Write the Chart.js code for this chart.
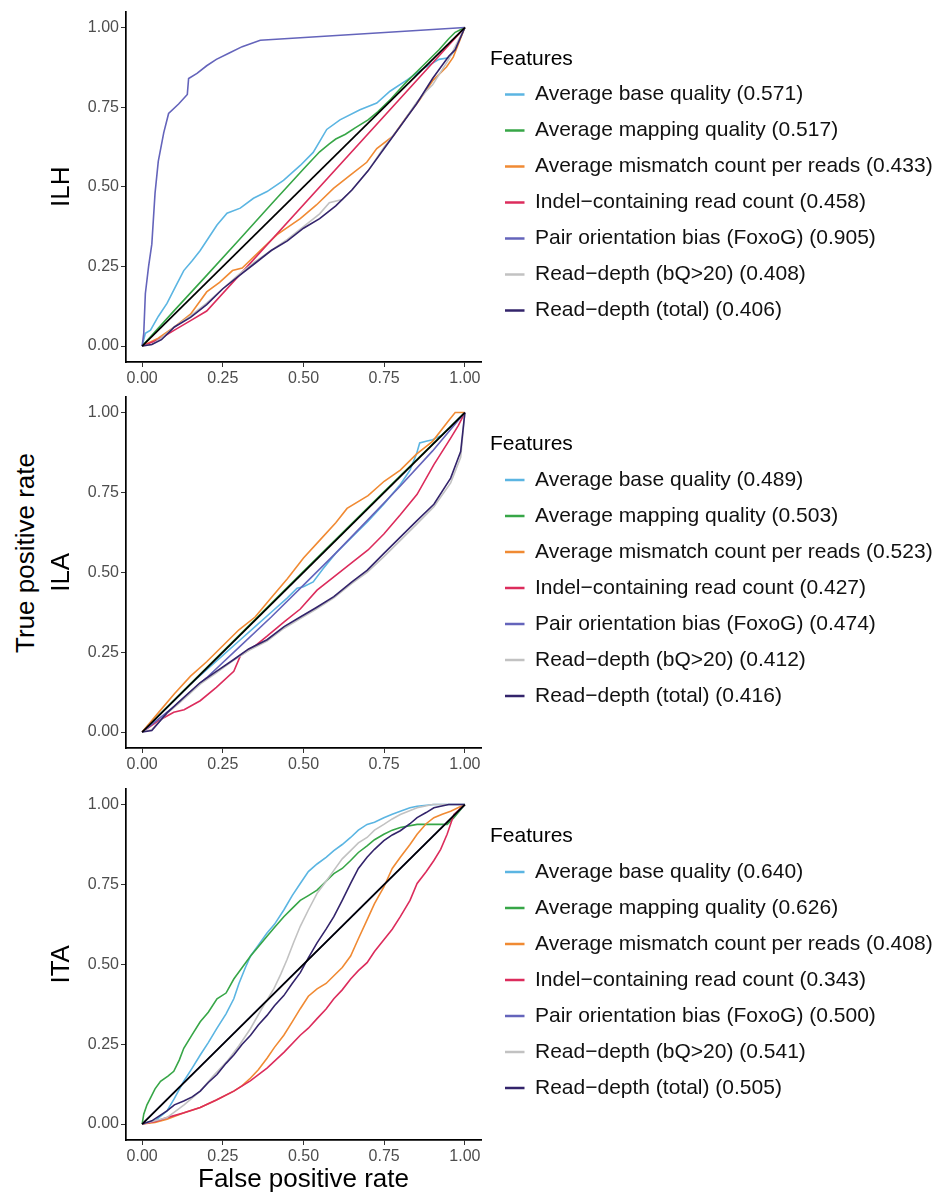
<!DOCTYPE html>
<html>
<head>
<meta charset="utf-8">
<script src="https://cdn.jsdelivr.net/npm/chart.js@4.4.1/dist/chart.umd.min.js"></script>
<style>
  html, body { margin: 0; padding: 0; background: #fff; width: 941px; height: 1193px; overflow: hidden; position: relative; font-family: "Liberation Sans", Arial, sans-serif; }
  canvas { position: absolute; left: 0; }
  #tpr { position: absolute; left: 25px; top: 553px; transform: translate(-50%, -50%) rotate(-90deg); font-size: 26px; white-space: nowrap; color: #000; }
</style>
</head>
<body>
<div id="tpr">True positive rate</div>
<canvas id="ilh" width="941" height="390" style="top:0px"></canvas>
<canvas id="ila" width="941" height="391" style="top:385px"></canvas>
<canvas id="ita" width="941" height="416" style="top:777px"></canvas>
<script>
const tickValues = [0, 0.25, 0.5, 0.75, 1];
const featureNames = [
  'Average base quality',
  'Average mapping quality',
  'Average mismatch count per reads',
  'Indel\u2212containing read count',
  'Pair orientation bias (FoxoG)',
  'Read\u2212depth (bQ>20)',
  'Read\u2212depth (total)'
];
const featureColors = ['#5bb5e2', '#37a647', '#f08a33', '#dc2c5c', '#6464bb', '#c2c2c2', '#33246b'];
const diagonal = [[0, 0], [1, 1]];

// ILH
const aucILH = ['0.571', '0.517', '0.433', '0.458', '0.905', '0.408', '0.406'];
const ilhBaseQ = [[0,0],[0.01,0.04],[0.026,0.05],[0.05,0.093],[0.077,0.134],[0.103,0.186],[0.129,0.237],[0.155,0.268],[0.18,0.30],[0.206,0.34],[0.232,0.38],[0.263,0.417],[0.304,0.433],[0.345,0.464],[0.387,0.485],[0.438,0.52],[0.49,0.567],[0.53,0.608],[0.572,0.68],[0.613,0.71],[0.675,0.742],[0.727,0.763],[0.768,0.80],[0.82,0.835],[0.871,0.871],[0.92,0.9],[0.95,0.905],[0.97,0.93],[1,1]];
const ilhMapQ = [[0,0],[0.1,0.112],[0.2,0.222],[0.3,0.333],[0.4,0.445],[0.5,0.556],[0.55,0.61],[0.58,0.635],[0.6,0.65],[0.63,0.665],[0.66,0.685],[0.7,0.71],[0.73,0.735],[0.77,0.775],[0.82,0.83],[0.87,0.88],[0.92,0.93],[0.95,0.965],[0.97,0.985],[1,1]];
const ilhMismatch = [[0,0],[0.05,0.025],[0.1,0.06],[0.15,0.1],[0.2,0.17],[0.24,0.2],[0.28,0.237],[0.31,0.245],[0.366,0.30],[0.418,0.35],[0.49,0.40],[0.54,0.443],[0.593,0.495],[0.644,0.536],[0.696,0.577],[0.727,0.62],[0.778,0.66],[0.82,0.72],[0.86,0.773],[0.902,0.835],[0.943,0.876],[0.964,0.907],[1,1]];
const ilhIndel = [[0,0],[0.05,0.02],[0.1,0.05],[0.15,0.08],[0.2,0.11],[1,1]];
const ilhPair = [[0,0],[0.005,0.04],[0.01,0.165],[0.02,0.25],[0.03,0.32],[0.04,0.48],[0.05,0.58],[0.067,0.67],[0.082,0.73],[0.113,0.76],[0.14,0.79],[0.144,0.84],[0.17,0.856],[0.2,0.88],[0.23,0.90],[0.27,0.92],[0.31,0.94],[0.366,0.96],[1,1]];
const ilhDepthBQ = [[0,0],[0.03,0.005],[0.06,0.025],[0.1,0.06],[0.15,0.095],[0.2,0.135],[0.25,0.18],[0.3,0.225],[0.35,0.265],[0.4,0.3],[0.45,0.335],[0.5,0.375],[0.55,0.415],[0.58,0.45],[0.62,0.46],[0.65,0.49],[0.7,0.55],[0.75,0.625],[0.8,0.69],[0.85,0.765],[0.88,0.8],[0.9,0.82],[0.95,0.9],[0.97,0.94],[1,1]];
const ilhDepthTotal = [[0,0],[0.03,0.005],[0.06,0.02],[0.1,0.06],[0.15,0.09],[0.2,0.13],[0.25,0.18],[0.3,0.22],[0.35,0.26],[0.4,0.3],[0.45,0.33],[0.5,0.37],[0.55,0.4],[0.6,0.44],[0.65,0.49],[0.7,0.55],[0.75,0.62],[0.8,0.69],[0.85,0.76],[0.9,0.84],[0.95,0.91],[0.97,0.93],[1,1]];

// ILA
const aucILA = ['0.489', '0.503', '0.523', '0.427', '0.474', '0.412', '0.416'];
const ilaBaseQ = [[0,0],[0.05,0.05],[0.1,0.1],[0.15,0.15],[0.2,0.195],[0.25,0.24],[0.3,0.285],[0.35,0.33],[0.4,0.375],[0.45,0.42],[0.48,0.45],[0.5,0.455],[0.53,0.47],[0.56,0.51],[0.6,0.56],[0.65,0.61],[0.7,0.66],[0.75,0.715],[0.8,0.775],[0.83,0.82],[0.85,0.87],[0.86,0.905],[0.88,0.91],[0.9,0.915],[0.93,0.93],[0.96,0.96],[1,1]];
const ilaMapQ = [[0,0],[0.25,0.252],[0.5,0.503],[0.75,0.753],[1,1]];
const ilaMismatch = [[0,0],[0.05,0.06],[0.1,0.12],[0.15,0.175],[0.2,0.22],[0.25,0.27],[0.3,0.32],[0.35,0.36],[0.4,0.42],[0.45,0.48],[0.5,0.545],[0.55,0.6],[0.6,0.655],[0.635,0.7],[0.7,0.74],[0.75,0.785],[0.8,0.82],[0.85,0.87],[0.9,0.91],[0.95,0.975],[0.97,1.0],[1,1]];
const ilaIndel = [[0,0],[0.05,0.035],[0.077,0.05],[0.098,0.062],[0.13,0.07],[0.18,0.098],[0.23,0.14],[0.284,0.19],[0.305,0.24],[0.35,0.27],[0.387,0.30],[0.44,0.345],[0.49,0.385],[0.542,0.444],[0.6,0.49],[0.646,0.527],[0.7,0.57],[0.749,0.62],[0.8,0.68],[0.852,0.744],[0.904,0.837],[0.956,0.92],[0.98,0.96],[1,1]];
const ilaPair = [[0,0],[0.05,0.04],[0.1,0.08],[0.2,0.17],[0.3,0.265],[0.4,0.36],[0.5,0.46],[0.6,0.56],[0.7,0.665],[0.8,0.77],[0.9,0.88],[1,1]];
const ilaDepthBQ = [[0,0],[0.03,0.008],[0.077,0.058],[0.12,0.095],[0.18,0.15],[0.23,0.185],[0.284,0.225],[0.33,0.255],[0.387,0.285],[0.44,0.325],[0.49,0.355],[0.54,0.385],[0.594,0.42],[0.65,0.465],[0.697,0.5],[0.75,0.55],[0.8,0.6],[0.85,0.65],[0.904,0.705],[0.956,0.78],[0.987,0.86],[1,1]];
const ilaDepthTotal = [[0,0],[0.03,0.005],[0.077,0.06],[0.12,0.1],[0.18,0.155],[0.23,0.19],[0.284,0.227],[0.33,0.26],[0.387,0.289],[0.44,0.33],[0.49,0.36],[0.54,0.39],[0.594,0.424],[0.65,0.47],[0.697,0.506],[0.75,0.56],[0.8,0.61],[0.85,0.66],[0.904,0.713],[0.956,0.795],[0.987,0.878],[1,1]];

// ITA
const aucITA = ['0.640', '0.626', '0.408', '0.343', '0.500', '0.541', '0.505'];
const itaBaseQ = [[0,0],[0.04,0.01],[0.077,0.041],[0.1,0.08],[0.129,0.134],[0.155,0.175],[0.18,0.216],[0.205,0.255],[0.232,0.3],[0.26,0.345],[0.284,0.392],[0.3,0.44],[0.32,0.49],[0.336,0.526],[0.36,0.56],[0.387,0.598],[0.41,0.625],[0.439,0.67],[0.465,0.715],[0.49,0.753],[0.515,0.79],[0.542,0.814],[0.57,0.835],[0.594,0.856],[0.62,0.875],[0.646,0.897],[0.67,0.92],[0.697,0.938],[0.72,0.945],[0.749,0.959],[0.775,0.97],[0.8,0.979],[0.83,0.99],[0.852,0.995],[0.904,1],[1,1]];
const itaMapQ = [[0,0],[0.005,0.031],[0.015,0.06],[0.026,0.082],[0.04,0.11],[0.057,0.134],[0.08,0.15],[0.098,0.165],[0.115,0.2],[0.129,0.237],[0.155,0.28],[0.18,0.32],[0.205,0.35],[0.232,0.392],[0.26,0.41],[0.284,0.454],[0.31,0.49],[0.336,0.526],[0.36,0.555],[0.387,0.588],[0.41,0.615],[0.439,0.649],[0.465,0.675],[0.49,0.70],[0.515,0.715],[0.542,0.732],[0.57,0.76],[0.594,0.784],[0.62,0.8],[0.646,0.825],[0.67,0.85],[0.697,0.871],[0.72,0.89],[0.749,0.907],[0.775,0.92],[0.8,0.928],[0.852,0.938],[0.904,0.938],[0.945,0.938],[0.966,0.959],[1,1]];
const itaMismatch = [[0,0],[0.04,0.005],[0.077,0.015],[0.13,0.035],[0.18,0.052],[0.23,0.075],[0.284,0.103],[0.31,0.12],[0.336,0.144],[0.36,0.17],[0.387,0.206],[0.41,0.24],[0.439,0.278],[0.465,0.32],[0.49,0.361],[0.515,0.4],[0.542,0.423],[0.57,0.44],[0.594,0.464],[0.62,0.49],[0.646,0.526],[0.67,0.58],[0.697,0.639],[0.72,0.69],[0.749,0.742],[0.775,0.8],[0.8,0.835],[0.83,0.875],[0.852,0.907],[0.88,0.94],[0.904,0.959],[0.93,0.97],[0.956,0.979],[1,1]];
const itaIndel = [[0,0],[0.04,0.008],[0.077,0.02],[0.13,0.035],[0.18,0.052],[0.23,0.075],[0.284,0.103],[0.335,0.135],[0.387,0.175],[0.44,0.225],[0.49,0.278],[0.515,0.3],[0.542,0.33],[0.57,0.36],[0.594,0.392],[0.62,0.42],[0.646,0.454],[0.67,0.48],[0.697,0.505],[0.72,0.54],[0.749,0.577],[0.775,0.61],[0.8,0.649],[0.83,0.7],[0.852,0.753],[0.88,0.79],[0.904,0.825],[0.925,0.86],[0.945,0.907],[0.966,0.969],[1,1]];
const itaPair = [[0,0],[1,1]];
const itaDepthBQ = [[0,0],[0.04,0.01],[0.077,0.02],[0.13,0.06],[0.18,0.103],[0.22,0.15],[0.263,0.196],[0.3,0.245],[0.336,0.299],[0.37,0.36],[0.408,0.423],[0.43,0.47],[0.449,0.515],[0.47,0.57],[0.49,0.619],[0.515,0.67],[0.542,0.722],[0.57,0.76],[0.594,0.794],[0.62,0.83],[0.646,0.856],[0.67,0.88],[0.697,0.897],[0.72,0.92],[0.749,0.938],[0.775,0.955],[0.8,0.969],[0.852,0.99],[0.9,1],[1,1]];
const itaDepthTotal = [[0,0],[0.03,0.01],[0.077,0.041],[0.1,0.06],[0.129,0.072],[0.155,0.085],[0.18,0.103],[0.205,0.13],[0.232,0.155],[0.26,0.19],[0.284,0.216],[0.31,0.25],[0.336,0.278],[0.36,0.31],[0.387,0.34],[0.41,0.37],[0.439,0.402],[0.465,0.44],[0.49,0.474],[0.515,0.52],[0.542,0.567],[0.57,0.61],[0.594,0.649],[0.62,0.7],[0.646,0.753],[0.67,0.8],[0.697,0.835],[0.72,0.86],[0.749,0.887],[0.775,0.905],[0.8,0.918],[0.83,0.94],[0.852,0.959],[0.88,0.975],[0.904,0.99],[0.95,1],[1,1]];

const FONT = '"Liberation Sans", Arial, sans-serif';
Chart.defaults.font.family = FONT;

function toXY(pts) {
  return pts.map(p => ({ x: p[0], y: p[1] }));
}

function makePanel(id, panelName, series, aucs, isBottom) {
  const datasets = series.map((pts, i) => ({
    label: `${featureNames[i]} (${aucs[i]})`,
    data: toXY(pts),
    borderColor: featureColors[i],
    backgroundColor: featureColors[i],
    borderWidth: 1.6,
    pointRadius: 0,
    tension: 0,
    order: series.length - i
  }));
  datasets.push({
    label: 'diagonal',
    data: toXY(diagonal),
    borderColor: '#000',
    backgroundColor: '#000',
    borderWidth: 1.7,
    pointRadius: 0,
    order: 0
  });

  return new Chart(document.getElementById(id), {
    type: 'line',
    data: { datasets },
    options: {
      responsive: false,
      animation: false,
      devicePixelRatio: 1,
      events: [],
      layout: { padding: { top: 7, left: 0, right: 0, bottom: 0 } },
      scales: {
        x: {
          type: 'linear',
          min: -0.05,
          max: 1.05,
          afterBuildTicks: s => { s.ticks = tickValues.map(v => ({ value: v })); },
          afterFit: s => { s.height = isBottom ? 53 : 28; },
          grid: { drawOnChartArea: false, drawTicks: true, tickLength: 5, color: '#333' },
          border: { display: true, color: '#000', width: 1.7 },
          ticks: { padding: 2, color: '#4d4d4d', font: { size: 16 }, maxRotation: 0, autoSkip: false, callback: v => v.toFixed(2) },
          title: { display: isBottom, text: 'False positive rate', color: '#000', font: { size: 26, lineHeight: 1 }, padding: { top: 0, bottom: 0 } }
        },
        y: {
          type: 'linear',
          min: -0.05,
          max: 1.05,
          afterBuildTicks: s => { s.ticks = tickValues.map(v => ({ value: v })); },
          afterFit: s => { s.width = 126; },
          grid: { drawOnChartArea: false, drawTicks: true, tickLength: 5, color: '#333' },
          border: { display: true, color: '#000', width: 1.7 },
          ticks: { padding: 2, color: '#4d4d4d', font: { size: 16 }, callback: v => v.toFixed(2) },
          title: { display: true, text: panelName, color: '#000', font: { size: 26 }, padding: { top: 46, bottom: 0 } }
        },
        gap: {
          type: 'linear',
          position: 'right',
          display: true,
          afterFit: s => { s.width = 9; },
          grid: { display: false },
          border: { display: false },
          ticks: { display: false }
        }
      },
      plugins: {
        tooltip: { enabled: false },
        legend: {
          position: 'right',
          align: 'center',
          fullSize: false,
          maxWidth: 451,
          title: { display: true, position: 'start', text: 'Features', color: '#000', font: { size: 21 }, padding: { top: 11, bottom: -5 } },
          labels: {
            boxWidth: 19.5,
            boxHeight: 2.5,
            padding: 15,
            color: '#111',
            font: { size: 21 },
            filter: item => item.text !== 'diagonal',
            sort: (a, b) => a.datasetIndex - b.datasetIndex,
            generateLabels: chart => Chart.defaults.plugins.legend.labels.generateLabels(chart)
              .map(l => Object.assign(l, { lineWidth: 0, fillStyle: l.strokeStyle }))
          }
        }
      }
    }
  });
}

makePanel('ilh', 'ILH', [ilhBaseQ, ilhMapQ, ilhMismatch, ilhIndel, ilhPair, ilhDepthBQ, ilhDepthTotal], aucILH, false);
makePanel('ila', 'ILA', [ilaBaseQ, ilaMapQ, ilaMismatch, ilaIndel, ilaPair, ilaDepthBQ, ilaDepthTotal], aucILA, false);
makePanel('ita', 'ITA', [itaBaseQ, itaMapQ, itaMismatch, itaIndel, itaPair, itaDepthBQ, itaDepthTotal], aucITA, true);
</script>
</body>
</html>
